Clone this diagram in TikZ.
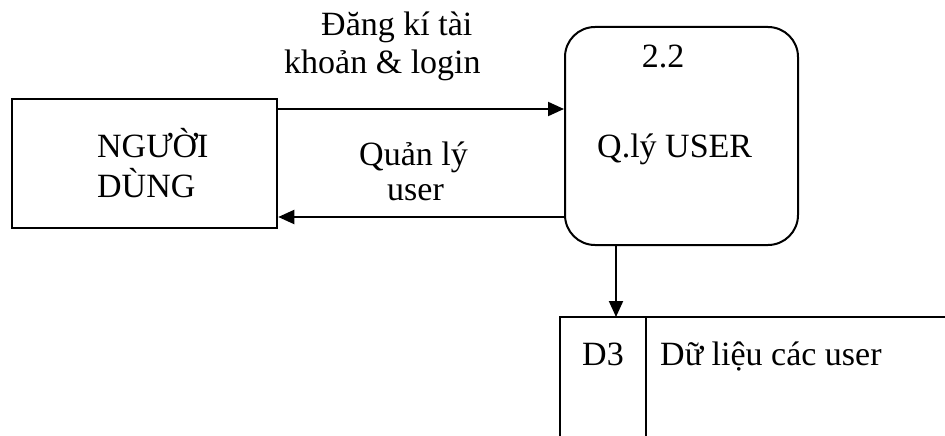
\documentclass[tikz,border=0pt]{standalone}
\usepackage{fontspec}
\setmainfont{Liberation Serif}
\usetikzlibrary{arrows.meta}
\begin{document}
\begin{tikzpicture}[x=1pt,y=-1pt,
  txt/.style={inner sep=0pt,anchor=base west,font=\fontsize{34}{40}\selectfont},
  txtc/.style={inner sep=0pt,anchor=base,font=\fontsize{34}{40}\selectfont},
  flow/.style={line width=2pt,-{Triangle[length=16pt,width=14pt]}},
  extbox/.style={draw,line width=2.5pt,minimum width=265pt,minimum height=129pt,inner sep=0pt},
  procbox/.style={draw,line width=2pt,rounded corners=30pt,minimum width=233pt,minimum height=218pt,inner sep=0pt},
  storeline/.style={line width=2.5pt}]
\useasboundingbox (0,0) rectangle (945,436);
% external entity
\node[extbox] (user) at (144.5,163.5) {};
\node[txt] (u1) at (97,157) {NGƯỜI};
\node[txt] (u2) at (97,197) {DÙNG};
% process
\node[procbox] (proc) at (681.5,136) {};
\node[txtc] (pnum) at (663,67) {2.2};
\node[txt] (pname) at (597,157) {Q.lý USER};
% data store
\coordinate (dsl) at (560,317);
\coordinate (dsr) at (945,317);
\coordinate (dsd) at (646,317);
\coordinate (ds) at (616,317);
\draw[storeline] (560,436) -- (dsl) -- (dsr);
\draw[storeline] (dsd) -- (646,436);
\node[txt] (d3) at (582,365) {D3};
\node[txt] (dname) at (660,365) {Dữ liệu các user};
% flows
\draw[flow] (user.east |- 0,109) -- (proc.west |- 0,109);
\draw[flow] (proc.west |- 0,217) -- (user.east |- 0,217);
\draw[flow] (proc.south -| ds) -- (ds);
% flow labels
\node[txt] (l1) at (321,36) {Đăng kí tài};
\node[txt] (l2) at (284,74) {khoản \& login};
\node[txt] (l3) at (359,165) {Quản lý};
\node[txt] (l4) at (387,200) {user};
\end{tikzpicture}
\end{document}
